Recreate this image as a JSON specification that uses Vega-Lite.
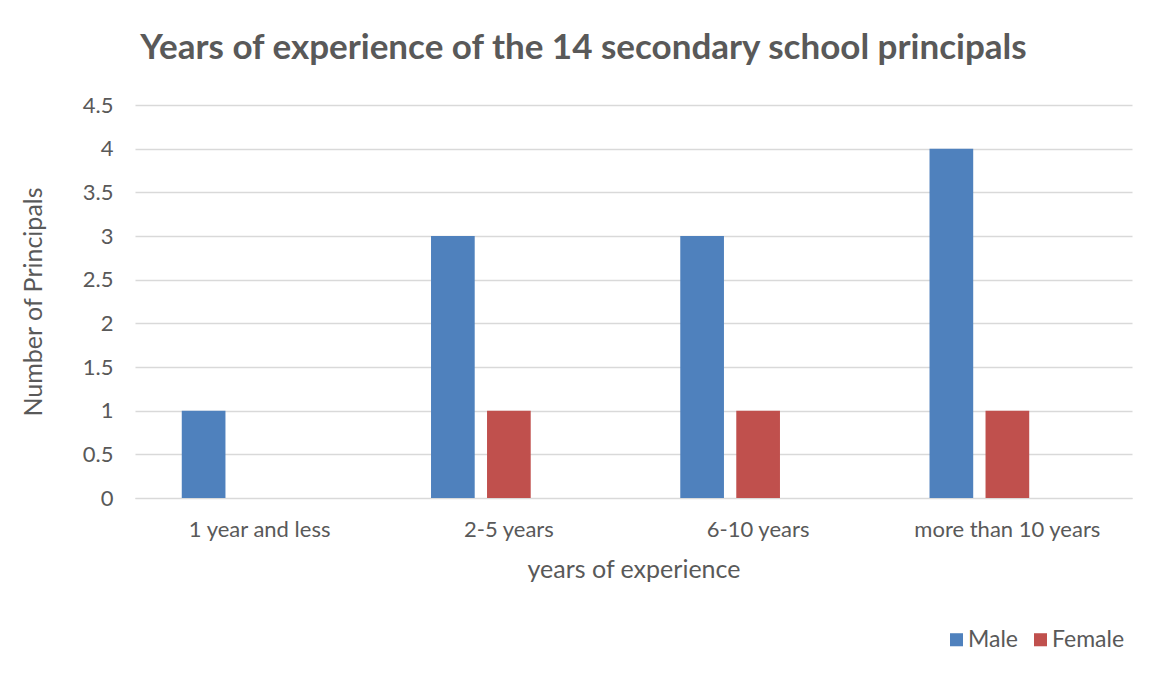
{
  "$schema": "https://vega.github.io/schema/vega-lite/v6.json",
  "autosize": "none",
  "width": 997,
  "height": 393,
  "padding": {"left": 135, "top": 105, "right": 28, "bottom": 177},
  "background": "white",
  "title": {
    "text": "Years of experience of the 14 secondary school principals",
    "anchor": "middle",
    "frame": "group",
    "dx": -50,
    "offset": 28,
    "font": "Lato",
    "fontSize": 35,
    "fontWeight": "bold",
    "color": "#595959"
  },
  "data": {
    "values": [
      {"experience": "1 year and less", "gender": "Male", "count": 1},
      {"experience": "1 year and less", "gender": "Female", "count": 0},
      {"experience": "2-5 years", "gender": "Male", "count": 3},
      {"experience": "2-5 years", "gender": "Female", "count": 1},
      {"experience": "6-10 years", "gender": "Male", "count": 3},
      {"experience": "6-10 years", "gender": "Female", "count": 1},
      {"experience": "more than 10 years", "gender": "Male", "count": 4},
      {"experience": "more than 10 years", "gender": "Female", "count": 1}
    ]
  },
  "mark": {"type": "bar"},
  "encoding": {
    "x": {
      "field": "experience",
      "type": "nominal",
      "sort": ["1 year and less", "2-5 years", "6-10 years", "more than 10 years"],
      "scale": {"paddingInner": 0, "paddingOuter": 0},
      "axis": {
        "title": "years of experience",
        "labelAngle": 0,
        "labelLimit": 0,
        "labelFont": "Lato",
        "labelFontSize": 22,
        "labelColor": "#595959",
        "labelPadding": 21,
        "ticks": false,
        "domainColor": "#d9d9d9",
        "titleFont": "Lato",
        "titleFontSize": 25,
        "titleFontWeight": "normal",
        "titleColor": "#595959",
        "titlePadding": 17
      }
    },
    "xOffset": {
      "field": "gender",
      "type": "nominal",
      "scale": {"domain": ["Male", "Female", "Other"], "paddingInner": 0.22, "paddingOuter": 0.835}
    },
    "y": {
      "field": "count",
      "type": "quantitative",
      "scale": {"domain": [0, 4.5], "nice": false},
      "axis": {
        "title": "Number of Principals",
        "values": [0, 0.5, 1, 1.5, 2, 2.5, 3, 3.5, 4, 4.5],
        "format": "~g",
        "labelFont": "Lato",
        "labelFontSize": 22,
        "labelColor": "#595959",
        "labelPadding": 22,
        "ticks": false,
        "domain": false,
        "gridColor": "#d9d9d9",
        "gridWidth": 1.5,
        "titleFont": "Lato",
        "titleFontSize": 25,
        "titleFontWeight": "normal",
        "titleColor": "#595959",
        "titlePadding": 36
      }
    },
    "color": {
      "field": "gender",
      "type": "nominal",
      "scale": {"domain": ["Male", "Female"], "range": ["#4f81bd", "#c0504d"]},
      "legend": {
        "title": null,
        "orient": "none",
        "legendX": 810,
        "legendY": 523,
        "direction": "horizontal",
        "symbolType": "square",
        "symbolSize": 170,
        "symbolStrokeWidth": 0,
        "labelFont": "Lato",
        "labelFontSize": 23,
        "labelColor": "#595959",
        "labelOffset": 0,
        "columnPadding": 10
      }
    }
  },
  "config": {
    "view": {"stroke": null}
  }
}
